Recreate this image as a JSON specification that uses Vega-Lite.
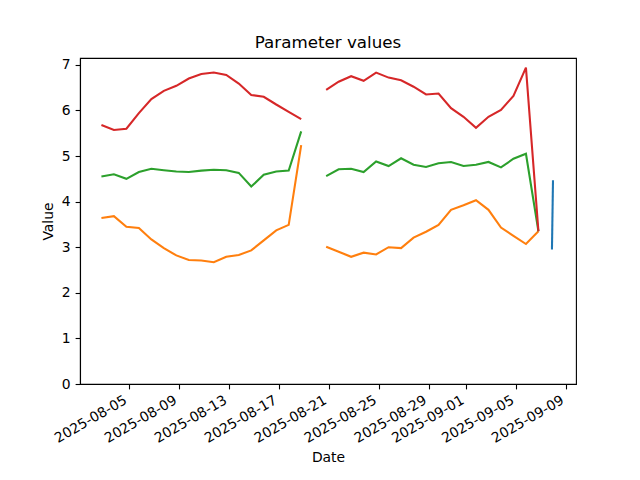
{
  "$schema": "https://vega.github.io/schema/vega-lite/v6.json",
  "width": 496,
  "height": 326,
  "autosize": {"type": "none"},
  "padding": {"left": 80, "top": 58, "right": 64, "bottom": 96},
  "background": "white",
  "title": {"text": "Parameter values", "font": "DejaVu Sans", "fontSize": 16.7, "fontWeight": "normal", "color": "black", "anchor": "middle", "offset": 6},
  "data": {"values": [
    {"date": "2025-08-02T19:00", "series": "p2", "value": 3.64},
    {"date": "2025-08-03T19:00", "series": "p2", "value": 3.68},
    {"date": "2025-08-04T19:00", "series": "p2", "value": 3.45},
    {"date": "2025-08-05T19:00", "series": "p2", "value": 3.42},
    {"date": "2025-08-06T19:00", "series": "p2", "value": 3.17},
    {"date": "2025-08-07T19:00", "series": "p2", "value": 2.98},
    {"date": "2025-08-08T19:00", "series": "p2", "value": 2.82},
    {"date": "2025-08-09T19:00", "series": "p2", "value": 2.72},
    {"date": "2025-08-10T19:00", "series": "p2", "value": 2.71},
    {"date": "2025-08-11T19:00", "series": "p2", "value": 2.67},
    {"date": "2025-08-12T19:00", "series": "p2", "value": 2.79},
    {"date": "2025-08-13T19:00", "series": "p2", "value": 2.83},
    {"date": "2025-08-14T19:00", "series": "p2", "value": 2.93},
    {"date": "2025-08-15T19:00", "series": "p2", "value": 3.15},
    {"date": "2025-08-16T19:00", "series": "p2", "value": 3.37},
    {"date": "2025-08-17T19:00", "series": "p2", "value": 3.49},
    {"date": "2025-08-18T19:00", "series": "p2", "value": 5.24},
    {"date": "2025-08-19T19:00", "series": "p2", "value": null},
    {"date": "2025-08-20T19:00", "series": "p2", "value": 3.01},
    {"date": "2025-08-21T19:00", "series": "p2", "value": 2.90},
    {"date": "2025-08-22T19:00", "series": "p2", "value": 2.79},
    {"date": "2025-08-23T19:00", "series": "p2", "value": 2.88},
    {"date": "2025-08-24T19:00", "series": "p2", "value": 2.84},
    {"date": "2025-08-25T19:00", "series": "p2", "value": 3.00},
    {"date": "2025-08-26T19:00", "series": "p2", "value": 2.98},
    {"date": "2025-08-27T19:00", "series": "p2", "value": 3.21},
    {"date": "2025-08-28T19:00", "series": "p2", "value": 3.34},
    {"date": "2025-08-29T19:00", "series": "p2", "value": 3.49},
    {"date": "2025-08-30T19:00", "series": "p2", "value": 3.82},
    {"date": "2025-08-31T19:00", "series": "p2", "value": 3.92},
    {"date": "2025-09-01T19:00", "series": "p2", "value": 4.03},
    {"date": "2025-09-02T19:00", "series": "p2", "value": 3.82},
    {"date": "2025-09-03T19:00", "series": "p2", "value": 3.43},
    {"date": "2025-09-04T19:00", "series": "p2", "value": 3.25},
    {"date": "2025-09-05T19:00", "series": "p2", "value": 3.07},
    {"date": "2025-09-06T19:00", "series": "p2", "value": 3.35},

    {"date": "2025-08-02T19:00", "series": "p3", "value": 4.55},
    {"date": "2025-08-03T19:00", "series": "p3", "value": 4.60},
    {"date": "2025-08-04T19:00", "series": "p3", "value": 4.50},
    {"date": "2025-08-05T19:00", "series": "p3", "value": 4.65},
    {"date": "2025-08-06T19:00", "series": "p3", "value": 4.72},
    {"date": "2025-08-07T19:00", "series": "p3", "value": 4.69},
    {"date": "2025-08-08T19:00", "series": "p3", "value": 4.66},
    {"date": "2025-08-09T19:00", "series": "p3", "value": 4.65},
    {"date": "2025-08-10T19:00", "series": "p3", "value": 4.68},
    {"date": "2025-08-11T19:00", "series": "p3", "value": 4.70},
    {"date": "2025-08-12T19:00", "series": "p3", "value": 4.69},
    {"date": "2025-08-13T19:00", "series": "p3", "value": 4.63},
    {"date": "2025-08-14T19:00", "series": "p3", "value": 4.33},
    {"date": "2025-08-15T19:00", "series": "p3", "value": 4.59},
    {"date": "2025-08-16T19:00", "series": "p3", "value": 4.66},
    {"date": "2025-08-17T19:00", "series": "p3", "value": 4.68},
    {"date": "2025-08-18T19:00", "series": "p3", "value": 5.54},
    {"date": "2025-08-19T19:00", "series": "p3", "value": null},
    {"date": "2025-08-20T19:00", "series": "p3", "value": 4.56},
    {"date": "2025-08-21T19:00", "series": "p3", "value": 4.71},
    {"date": "2025-08-22T19:00", "series": "p3", "value": 4.72},
    {"date": "2025-08-23T19:00", "series": "p3", "value": 4.65},
    {"date": "2025-08-24T19:00", "series": "p3", "value": 4.88},
    {"date": "2025-08-25T19:00", "series": "p3", "value": 4.78},
    {"date": "2025-08-26T19:00", "series": "p3", "value": 4.95},
    {"date": "2025-08-27T19:00", "series": "p3", "value": 4.81},
    {"date": "2025-08-28T19:00", "series": "p3", "value": 4.76},
    {"date": "2025-08-29T19:00", "series": "p3", "value": 4.84},
    {"date": "2025-08-30T19:00", "series": "p3", "value": 4.87},
    {"date": "2025-08-31T19:00", "series": "p3", "value": 4.78},
    {"date": "2025-09-01T19:00", "series": "p3", "value": 4.81},
    {"date": "2025-09-02T19:00", "series": "p3", "value": 4.87},
    {"date": "2025-09-03T19:00", "series": "p3", "value": 4.75},
    {"date": "2025-09-04T19:00", "series": "p3", "value": 4.94},
    {"date": "2025-09-05T19:00", "series": "p3", "value": 5.05},
    {"date": "2025-09-06T19:00", "series": "p3", "value": 3.35},

    {"date": "2025-08-02T19:00", "series": "p4", "value": 5.68},
    {"date": "2025-08-03T19:00", "series": "p4", "value": 5.57},
    {"date": "2025-08-04T19:00", "series": "p4", "value": 5.60},
    {"date": "2025-08-05T19:00", "series": "p4", "value": 5.94},
    {"date": "2025-08-06T19:00", "series": "p4", "value": 6.25},
    {"date": "2025-08-07T19:00", "series": "p4", "value": 6.43},
    {"date": "2025-08-08T19:00", "series": "p4", "value": 6.54},
    {"date": "2025-08-09T19:00", "series": "p4", "value": 6.70},
    {"date": "2025-08-10T19:00", "series": "p4", "value": 6.80},
    {"date": "2025-08-11T19:00", "series": "p4", "value": 6.83},
    {"date": "2025-08-12T19:00", "series": "p4", "value": 6.78},
    {"date": "2025-08-13T19:00", "series": "p4", "value": 6.59},
    {"date": "2025-08-14T19:00", "series": "p4", "value": 6.34},
    {"date": "2025-08-15T19:00", "series": "p4", "value": 6.30},
    {"date": "2025-08-16T19:00", "series": "p4", "value": 6.13},
    {"date": "2025-08-17T19:00", "series": "p4", "value": 5.97},
    {"date": "2025-08-18T19:00", "series": "p4", "value": 5.81},
    {"date": "2025-08-19T19:00", "series": "p4", "value": null},
    {"date": "2025-08-20T19:00", "series": "p4", "value": 6.45},
    {"date": "2025-08-21T19:00", "series": "p4", "value": 6.63},
    {"date": "2025-08-22T19:00", "series": "p4", "value": 6.75},
    {"date": "2025-08-23T19:00", "series": "p4", "value": 6.65},
    {"date": "2025-08-24T19:00", "series": "p4", "value": 6.83},
    {"date": "2025-08-25T19:00", "series": "p4", "value": 6.72},
    {"date": "2025-08-26T19:00", "series": "p4", "value": 6.66},
    {"date": "2025-08-27T19:00", "series": "p4", "value": 6.52},
    {"date": "2025-08-28T19:00", "series": "p4", "value": 6.35},
    {"date": "2025-08-29T19:00", "series": "p4", "value": 6.37},
    {"date": "2025-08-30T19:00", "series": "p4", "value": 6.05},
    {"date": "2025-08-31T19:00", "series": "p4", "value": 5.86},
    {"date": "2025-09-01T19:00", "series": "p4", "value": 5.62},
    {"date": "2025-09-02T19:00", "series": "p4", "value": 5.86},
    {"date": "2025-09-03T19:00", "series": "p4", "value": 6.01},
    {"date": "2025-09-04T19:00", "series": "p4", "value": 6.32},
    {"date": "2025-09-05T19:00", "series": "p4", "value": 6.94},
    {"date": "2025-09-06T19:00", "series": "p4", "value": 3.35},

    {"date": "2025-09-07T21:00", "series": "p1", "value": 2.95},
    {"date": "2025-09-07T23:00", "series": "p1", "value": 4.47}
  ]},
  "mark": {"type": "line", "strokeWidth": 2.08, "invalid": "break-paths-show-domains"},
  "encoding": {
    "x": {
      "field": "date", "type": "temporal",
      "scale": {"domain": [
        {"year": 2025, "month": 8, "date": 1, "hours": 1, "minutes": 50},
        {"year": 2025, "month": 9, "date": 9, "hours": 19, "minutes": 13}
      ]},
      "axis": {
        "title": "Date",
        "format": "%Y-%m-%d",
        "values": [
          {"year": 2025, "month": 8, "date": 5},
          {"year": 2025, "month": 8, "date": 9},
          {"year": 2025, "month": 8, "date": 13},
          {"year": 2025, "month": 8, "date": 17},
          {"year": 2025, "month": 8, "date": 21},
          {"year": 2025, "month": 8, "date": 25},
          {"year": 2025, "month": 8, "date": 29},
          {"year": 2025, "month": 9, "date": 1},
          {"year": 2025, "month": 9, "date": 5},
          {"year": 2025, "month": 9, "date": 9}
        ],
        "labelAngle": -30,
        "labelAlign": "right",
        "labelBaseline": "top",
        "labelOffset": -7,
        "labelPadding": 4,
        "titlePadding": 5
      }
    },
    "y": {
      "field": "value", "type": "quantitative",
      "scale": {"domain": [0, 7.15], "nice": false, "zero": false},
      "axis": {"title": "Value", "values": [0, 1, 2, 3, 4, 5, 6, 7], "titlePadding": 6, "labelPadding": 5}
    },
    "color": {
      "field": "series", "type": "nominal",
      "scale": {"domain": ["p1", "p2", "p3", "p4"], "range": ["#1f77b4", "#ff7f0e", "#2ca02c", "#d62728"]},
      "legend": null
    }
  },
  "config": {
    "view": {"stroke": "black", "strokeWidth": 1.1},
    "axis": {
      "grid": false,
      "domainColor": "black",
      "domainWidth": 1.1,
      "tickColor": "black",
      "tickWidth": 1.1,
      "tickSize": 4.9,
      "labelColor": "black",
      "labelFont": "DejaVu Sans",
      "labelFontSize": 13.9,
      "titleColor": "black",
      "titleFont": "DejaVu Sans",
      "titleFontSize": 13.9,
      "titleFontWeight": "normal",
      "labelFlush": false,
      "labelOverlap": false
    }
  }
}
